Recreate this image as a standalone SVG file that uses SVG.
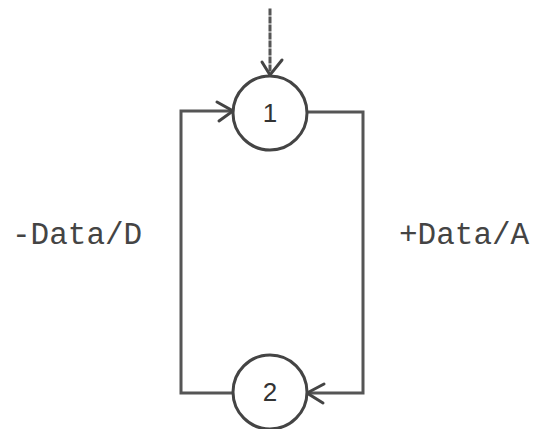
<svg xmlns="http://www.w3.org/2000/svg" width="540" height="429" viewBox="0 0 540 429">
  <style>
    .wire { fill: none; stroke: #555; stroke-width: 3; stroke-linecap: square; }
    .state { fill: #fff; stroke: #444; stroke-width: 3; }
    .num { font-family: "Liberation Sans", Arial, sans-serif; font-size: 26px; fill: #333; text-anchor: middle; }
    .lbl { font-family: "Liberation Mono", "Courier New", monospace; font-size: 31px; fill: #444; }
    .head { fill: none; stroke: #444; stroke-width: 3; stroke-linecap: round; }
  </style>
  <rect width="540" height="429" fill="#fff"/>
  <g id="connectors">
    <!-- entry arrow into state 1 -->
    <line class="wire" x1="270" y1="10" x2="270" y2="72" stroke-dasharray="4 4" stroke-width="3.5"/>
    <path class="head" d="M262 62 L270 75 L282 60"/>
    <!-- loop: state 2 back to state 1 on the left -->
    <path class="wire" d="M233 393 H181 V111 H230"/>
    <path class="head" d="M217 102 L233 111 L219 121"/>
    <!-- loop: state 1 to state 2 on the right -->
    <path class="wire" d="M307 112 H363 V393 H310"/>
    <path class="head" d="M324 384 L307 393 L323 403"/>
  </g>
  <g id="node1">
    <circle class="state" cx="270" cy="113" r="37"/>
    <text class="num" x="270" y="122">1</text>
  </g>
  <g id="node2">
    <circle class="state" cx="270" cy="392" r="37"/>
    <text class="num" x="270" y="401">2</text>
  </g>
  <g id="labels">
    <text class="lbl" x="12" y="244">-Data/D</text>
    <text class="lbl" x="399" y="244">+Data/A</text>
  </g>
</svg>
